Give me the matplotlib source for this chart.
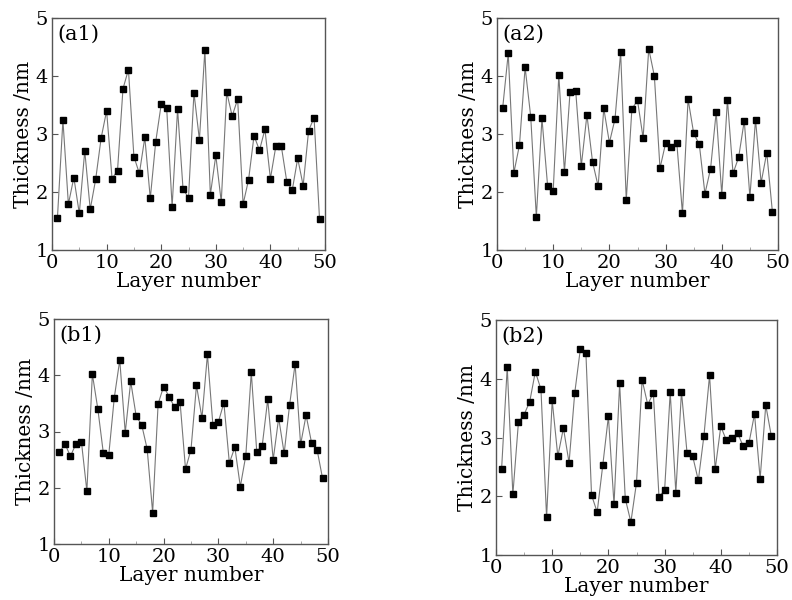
import numpy as np
import matplotlib.pyplot as plt

plt.rcParams['font.family'] = ['DejaVu Serif']

layers = np.arange(1, 50)

a1 = [1.56, 3.24, 1.79, 2.25, 1.63, 2.71, 1.70, 2.22, 2.93, 3.40,
      2.23, 2.37, 3.78, 4.11, 2.61, 2.32, 2.94, 1.89, 2.87, 3.51,
      3.45, 1.75, 3.43, 2.05, 1.90, 3.71, 2.90, 4.45, 1.95, 2.63,
      1.83, 3.72, 3.31, 3.60, 1.79, 2.21, 2.97, 2.72, 3.08, 2.23,
      2.79, 2.79, 2.18, 2.03, 2.58, 2.11, 3.06, 3.28, 1.53]
a2 = [3.44, 4.39, 2.33, 2.81, 4.15, 3.30, 1.57, 3.27, 2.11, 2.02,
      4.02, 2.34, 3.73, 3.75, 2.45, 3.33, 2.52, 2.10, 3.44, 2.85,
      3.26, 4.41, 1.86, 3.43, 3.58, 2.93, 4.47, 4.00, 2.41, 2.84,
      2.77, 2.84, 1.63, 3.60, 3.01, 2.82, 1.97, 2.40, 3.38, 1.95,
      3.59, 2.32, 2.60, 3.23, 1.91, 3.25, 2.16, 2.68, 1.66]
b1 = [2.63, 2.78, 2.56, 2.78, 2.82, 1.94, 4.02, 3.40, 2.62, 2.59,
      3.60, 4.27, 2.98, 3.89, 3.27, 3.12, 2.69, 1.56, 3.49, 3.80,
      3.62, 3.43, 3.53, 2.33, 2.68, 3.82, 3.24, 4.37, 3.11, 3.17,
      3.51, 2.44, 2.72, 2.02, 2.57, 4.05, 2.64, 2.75, 3.57, 2.50,
      3.24, 2.61, 3.48, 4.20, 2.77, 3.29, 2.80, 2.68, 2.17]
b2 = [2.47, 4.20, 2.03, 3.27, 3.39, 3.61, 4.12, 3.82, 1.64, 3.63,
      2.68, 3.16, 2.57, 3.75, 4.50, 4.43, 2.02, 1.73, 2.53, 3.36,
      1.86, 3.92, 1.96, 1.56, 2.23, 3.98, 3.56, 3.76, 1.99, 2.10,
      3.77, 2.06, 3.78, 2.73, 2.68, 2.27, 3.03, 4.06, 2.46, 3.19,
      2.95, 3.00, 3.07, 2.85, 2.90, 3.40, 2.30, 3.55, 3.02]

panels = [('(a1)', a1), ('(a2)', a2), ('(b1)', b1), ('(b2)', b2)]

W, H = 792, 600
# axes boxes in pixels: left, right, top, bottom
boxes = [(52, 325, 18, 250), (497, 778, 18, 250),
         (54, 328, 319, 544), (496, 777, 320, 555)]

fig = plt.figure(figsize=(W / 100, H / 100), dpi=100)

for (name, vals), (l, r, t, b) in zip(panels, boxes):
    ax = fig.add_axes([l / W, 1 - b / H, (r - l) / W, (b - t) / H])
    ax.plot(layers, vals, color='#777777', lw=0.8, marker='s',
            markersize=4.2, markerfacecolor='black', markeredgecolor='black')
    ax.set_xlim(0, 50)
    ax.set_ylim(1, 5)
    ax.set_xticks(range(0, 51, 10))
    ax.set_xticks(range(5, 50, 10), minor=True)
    ax.set_yticks(range(1, 6))
    ax.tick_params(direction='in', labelsize=14, length=4, color='#555555')
    ax.tick_params(axis='x', pad=3)
    ax.tick_params(axis='y', pad=3)
    ax.tick_params(which='minor', direction='in', length=2, color='#999999')
    for s in ax.spines.values():
        s.set_color('#555555')
        s.set_linewidth(1.0)
    ax.set_xlabel('Layer number', fontsize=14.5, labelpad=0)
    ax.set_ylabel('Thickness /nm', fontsize=14.5, labelpad=2)
    ax.text(0.02, 0.97, name, transform=ax.transAxes, fontsize=15,
            va='top', ha='left')

fig.savefig('out.png', dpi=100)
